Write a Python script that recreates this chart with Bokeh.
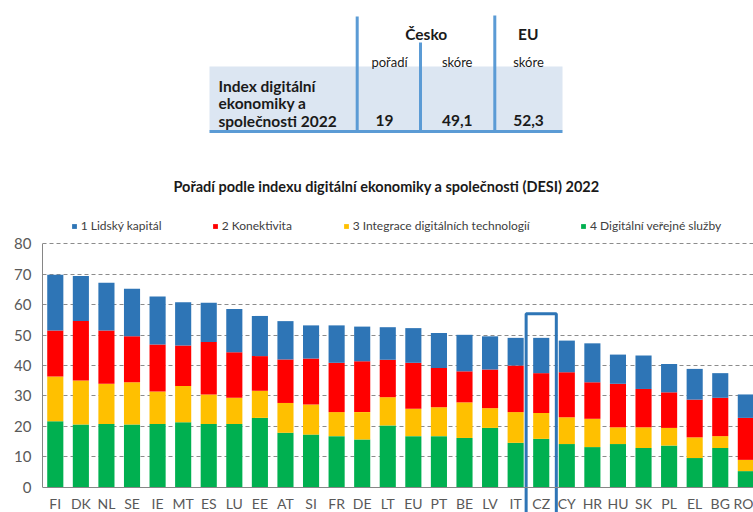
from bokeh.plotting import figure
from bokeh.layouts import column
from bokeh.models import Range1d, FixedTicker, Legend, LegendItem, ColumnDataSource
from bokeh.core.properties import value
from bokeh.embed import file_html
from bokeh.resources import INLINE

# ---------------- data ----------------
countries = ["FI", "DK", "NL", "SE", "IE", "MT", "ES", "LU", "EE", "AT", "SI", "FR", "DE", "LT",
             "EU", "PT", "BE", "LV", "IT", "CZ", "CY", "HR", "HU", "SK", "PL", "EL", "BG", "RO"]
digital_public_services = [21.7, 20.6, 20.8, 20.6, 20.8, 21.4, 20.8, 20.8, 22.8, 17.9, 17.3, 16.8, 15.7, 20.3,
                           16.8, 16.8, 16.2, 19.5, 14.6, 15.9, 14.2, 13.2, 14.2, 12.9, 13.7, 9.6, 12.9, 5.3]
integration_tech = [14.7, 14.5, 13.2, 13.9, 10.7, 11.9, 9.7, 8.6, 8.9, 9.8, 9.9, 7.9, 9.0, 9.3,
                    9.0, 9.5, 11.7, 6.5, 10.1, 8.5, 8.8, 9.3, 5.5, 6.8, 5.8, 6.8, 3.9, 3.7]
connectivity = [15.1, 19.5, 17.5, 15.1, 15.4, 13.3, 17.2, 15.0, 11.4, 14.3, 15.1, 16.2, 16.7, 12.3,
                15.1, 12.9, 10.2, 12.7, 15.3, 13.1, 14.8, 12.0, 14.3, 12.6, 11.7, 12.4, 12.6, 13.8]
human_capital = [18.3, 14.8, 15.7, 15.6, 15.8, 14.2, 12.9, 14.2, 13.2, 12.6, 10.9, 12.3, 11.4, 10.7,
                 11.4, 11.5, 12.0, 10.9, 9.1, 11.6, 10.4, 12.8, 9.6, 11.0, 9.3, 10.1, 8.1, 7.7]
y_ticks = [0, 10, 20, 30, 40, 50, 60, 70, 80]

series_labels = ["1 Lidský kapitál", "2 Konektivita",
                 "3 Integrace digitálních technologií", "4 Digitální veřejné služby"]
series_colors = ["#2e75b6", "#ff0000", "#ffc000", "#00b050"]

chart_title = "Pořadí podle indexu digitální ekonomiky a společnosti (DESI) 2022"
highlight = "CZ"
highlight_top = 57

table_row_label = ["Index digitální", "ekonomiky a", "společnosti 2022"]
table_groups = ["Česko", "EU"]
table_subheads = ["pořadí", "skóre", "skóre"]
table_values = ["19", "49,1", "52,3"]

FONT = "Lato"
GRAY = "#595959"
LINE_BLUE = "#5b9bd5"
LEFT = 42  # left border shared by both figures (frames are aligned in the column)

# ---------------- table (top) ----------------
t = figure(width=753, height=200, x_range=Range1d(LEFT, 753), y_range=Range1d(200, 0),
           output_backend="svg", toolbar_location=None, min_border=0, min_border_left=LEFT,
           x_axis_type=None, y_axis_type=None, outline_line_color=None)
t.grid.visible = False

t.quad(left=[209], right=[562], top=[66], bottom=[130], fill_color="#dce6f2", line_color=None)
t.segment(x0=[356.7, 420, 494.3, 209], y0=[16, 42, 15, 131],
          x1=[356.7, 420, 494.3, 562], y1=[131, 131, 131, 131],
          line_color=LINE_BLUE, line_width=3)

t.text(x=[218] * 3, y=[85, 102.5, 120], text=table_row_label, text_align="left",
       text_baseline="middle", text_font=value(FONT), text_font_style="bold",
       text_font_size="15.5px", text_color="#1a1a1a")
t.text(x=[425.7, 527.7], y=[33, 33], text=table_groups, text_align="center",
       text_baseline="middle", text_font=value(FONT), text_font_style="bold",
       text_font_size="15.5px", text_color="#1a1a1a")
t.text(x=[389, 456.7, 528], y=[61, 61, 61], text=table_subheads, text_align="center",
       text_baseline="middle", text_font=value(FONT), text_font_size="13px", text_color="#1a1a1a")
t.text(x=[384, 456.7, 528], y=[120, 120, 120], text=table_values, text_align="center",
       text_baseline="middle", text_font=value(FONT), text_font_style="bold",
       text_font_size="15.5px", text_color="#1a1a1a")
t.text(x=[386], y=[186], text=[chart_title], text_align="center", text_baseline="middle",
       text_font=value(FONT), text_font_style="bold", text_font_size="14.5px", text_color="#1a1a1a")

# ---------------- chart ----------------
p = figure(width=753, height=312, x_range=Range1d(-0.5, 27.3), y_range=Range1d(-8.3, 88.0),
           output_backend="svg", toolbar_location=None,
           min_border_left=LEFT, min_border_right=0, min_border_top=19, min_border_bottom=0,
           outline_line_color=None)

src = ColumnDataSource(dict(x=list(range(len(countries))), g=digital_public_services,
                            i=integration_tech, c=connectivity, h=human_capital))
rs = p.vbar_stack(["g", "i", "c", "h"], x="x", width=0.63, source=src,
                  fill_color=[series_colors[3], series_colors[2], series_colors[1], series_colors[0]],
                  line_color=None)
renderer_by_series = [rs[3], rs[2], rs[1], rs[0]]

# highlight box around CZ
ci = countries.index(highlight)
p.quad(left=[ci - 0.59], right=[ci + 0.59], top=[highlight_top], bottom=[-20],
       fill_color=None, line_color="#2e75b6", line_width=3)

# axes
p.xaxis.ticker = FixedTicker(ticks=list(range(len(countries))))
p.xaxis.major_label_overrides = {i: c for i, c in enumerate(countries)}
p.xaxis.fixed_location = 0
p.xaxis.axis_line_color = "#868686"
p.xaxis.major_tick_out = 0
p.xaxis.major_tick_in = 0
p.xaxis.minor_tick_out = 0
p.xaxis.minor_tick_in = 0
p.xaxis.major_label_standoff = 8
p.xaxis.major_label_text_font = FONT
p.xaxis.major_label_text_font_size = "14px"
p.xaxis.major_label_text_color = GRAY

p.yaxis.ticker = FixedTicker(ticks=y_ticks)
p.yaxis.bounds = (0, 80)
p.yaxis.axis_line_color = "#868686"
p.yaxis.major_tick_out = 0
p.yaxis.major_tick_in = 0
p.yaxis.minor_tick_out = 0
p.yaxis.minor_tick_in = 0
p.yaxis.major_label_standoff = 11
p.yaxis.major_label_text_font = FONT
p.yaxis.major_label_text_font_size = "15px"
p.yaxis.major_label_text_color = GRAY

p.xgrid.visible = False
p.ygrid.ticker = FixedTicker(ticks=y_ticks[1:])
p.ygrid.grid_line_color = "#8c8c8c"
p.ygrid.grid_line_dash = "4 3"
p.ygrid.grid_line_width = 1

# legends (one per item, to match positions); placed inside the frame top strip
legend_x = [28.7, 169.7, 300.7, 538]
for lab, r, lx in zip(series_labels, renderer_by_series, legend_x):
    leg = Legend(items=[LegendItem(label=value(lab), renderers=[r])], location=(lx, 279),
                 orientation="horizontal", glyph_width=6, glyph_height=6, label_standoff=4,
                 padding=0, margin=0, spacing=0, border_line_color=None,
                 background_fill_alpha=0, label_text_font=FONT, label_text_font_size="12px",
                 label_text_color="#404040", label_height=12)
    p.add_layout(leg, "center")

layout = column(t, p, spacing=0)
open("out.html", "w").write(file_html(layout, INLINE))
